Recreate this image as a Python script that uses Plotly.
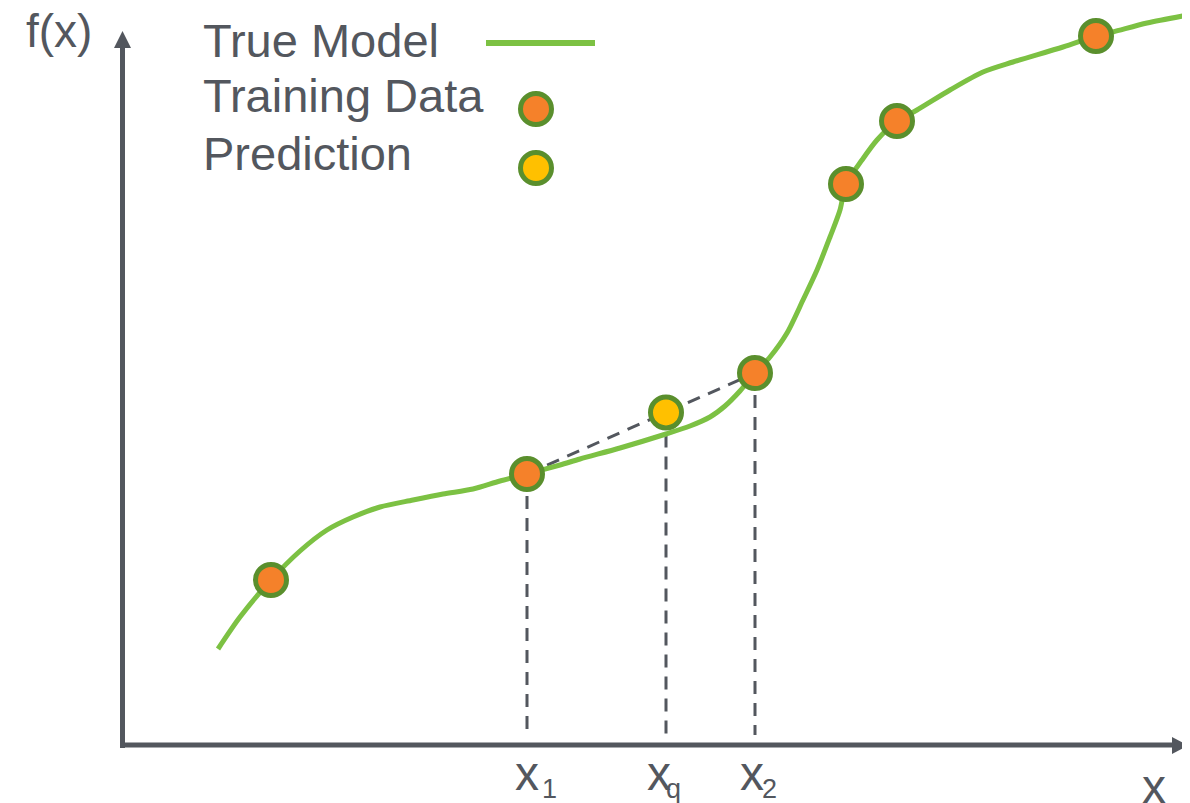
import plotly.graph_objects as go

# ---- data (x measured from the y-axis, y measured up from the x-axis) ----
curve_x = [96, 118, 149, 178, 205, 231, 258, 291, 321, 351, 378, 405, 438, 458, 498,
           544, 568, 588, 603, 618, 633, 648, 665, 681, 695, 708, 718, 724, 740, 755,
           775, 795, 828, 861, 891, 941, 974, 991, 1025, 1066]
curve_y = [96, 128, 165, 194, 215, 228, 238, 245, 251, 256, 264, 271, 280, 286, 297,
           311, 319, 328, 339, 354, 372, 388, 412, 445, 475, 508, 535, 561, 585, 605,
           624, 635, 655, 673, 683, 698, 709, 713, 722, 730]

train_x = [149, 405, 633, 724, 775, 974]
train_y = [165, 271, 372, 561, 624, 709]

x1, x2 = 405, 633
y1, y2 = 271, 372
xq = 544
yq = y1 + (y2 - y1) * (xq - x1) / (x2 - x1)

tick_labels = [("x", "1", x1), ("x", "q", xq), ("x", "2", x2)]
legend_labels = ["True Model", "Training Data", "Prediction"]

# ---- styles ----
GRAY = "#53575E"
CURVE = "#7CC143"
RING = "#5A8F2D"
ORANGE = "#F5812A"
YELLOW = "#FFC000"
FONT = "Liberation Sans, Arial, sans-serif"

# page-pixel helpers (axis origin at page pixel (122, 745)); the figure div sits
# 8px inside the page because of the default body margin
BODY = 8
OX, OY = 122, 745
def px(x):
    return x - OX
def py(y):
    return OY - y

fig = go.Figure()

fig.add_trace(go.Scatter(x=curve_x, y=curve_y, mode="lines",
                         line=dict(color=CURVE, width=5, shape="spline", smoothing=0.8),
                         hoverinfo="skip"))
fig.add_trace(go.Scatter(x=train_x, y=train_y, mode="markers",
                         marker=dict(size=31, color=ORANGE, line=dict(color=RING, width=5))))
fig.add_trace(go.Scatter(x=[xq], y=[yq], mode="markers",
                         marker=dict(size=31, color=YELLOW, line=dict(color=RING, width=5))))

shapes = []
dash = "13px,9px"
shapes.append(dict(type="line", x0=x1, y0=y1, x1=x2, y1=y2, layer="below",
                   line=dict(color=GRAY, width=3, dash=dash)))
for xv, yv in [(x1, y1), (xq, yq), (x2, y2)]:
    shapes.append(dict(type="line", x0=xv, y0=yv, x1=xv, y1=py(735), layer="below",
                       line=dict(color=GRAY, width=3, dash=dash)))

# axes
shapes.append(dict(type="line", x0=px(120), y0=0, x1=px(1173), y1=0,
                   line=dict(color=GRAY, width=5)))
shapes.append(dict(type="line", x0=px(122.5), y0=py(748), x1=px(122.5), y1=py(47),
                   line=dict(color=GRAY, width=5)))
shapes.append(dict(type="path",
                   path=f"M {px(1172)},{py(737)} L {px(1188)},{py(745.5)} L {px(1172)},{py(754)} Z",
                   fillcolor=GRAY, line=dict(width=0)))
shapes.append(dict(type="path",
                   path=f"M {px(114)},{py(48)} L {px(122.5)},{py(31)} L {px(131)},{py(48)} Z",
                   fillcolor=GRAY, line=dict(width=0)))

# legend symbols
shapes.append(dict(type="line", x0=px(486), y0=py(43), x1=px(595), y1=py(43),
                   line=dict(color=CURVE, width=6)))
for cy, col in [(109, ORANGE), (168, YELLOW)]:
    r = 15.5
    shapes.append(dict(type="circle", x0=px(536 - r), x1=px(536 + r),
                       y0=py(cy + r), y1=py(cy - r), fillcolor=col,
                       line=dict(color=RING, width=5)))

annotations = []
def text(t, left, center_y, size):
    annotations.append(dict(text=t, x=px(left), y=py(center_y), xref="x", yref="y",
                            xanchor="left", yanchor="middle", showarrow=False,
                            borderpad=0, font=dict(family=FONT, size=size, color=GRAY)))

for lab, base in zip(legend_labels, [57, 112, 170]):
    text(lab, 202, base - 0.3465 * 47, 47)
text("f(x)", 25, 47 - 0.3465 * 46, 46)
text("x", 1141, 803 - 0.3465 * 48, 48)
main_left = {"1": 514, "q": 646, "2": 739}
sub_left = {"1": 541, "q": 665, "2": 761}
for m, s, xv in tick_labels:
    text(m, main_left[s], 790 - 0.3465 * 48, 48)
    text(s, sub_left[s], 798 - 0.3465 * 27, 27)

W, H = 1190, 803
fig.update_layout(
    width=W, height=H,
    margin=dict(l=0, r=0, t=0, b=0),
    paper_bgcolor="white", plot_bgcolor="white",
    showlegend=False,
    xaxis=dict(range=[-(OX - BODY), W - (OX - BODY)], visible=False, fixedrange=True),
    yaxis=dict(range=[OY - BODY - H, OY - BODY], visible=False, fixedrange=True),
    shapes=shapes, annotations=annotations,
)

fig.write_html("out.html")
